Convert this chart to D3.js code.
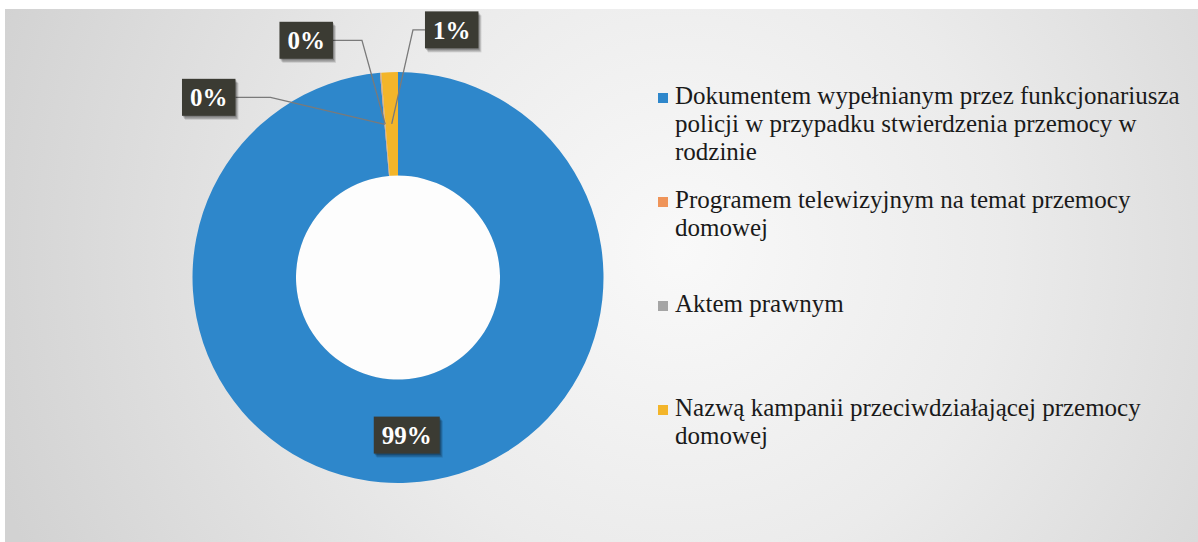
<!DOCTYPE html>
<html>
<head>
<meta charset="utf-8">
<script src="https://cdn.jsdelivr.net/npm/d3@7"></script>
</head>
<body style="margin:0">
<div id="chart"></div>
<script>
// data (percent of answers)
const categories = [
    "Dokumentem wypełnianym przez funkcjonariusza policji w przypadku stwierdzenia przemocy w rodzinie",
    "Programem telewizyjnym na temat przemocy domowej",
    "Aktem prawnym",
    "Nazwą kampanii przeciwdziałającej przemocy domowej"
];
const shares = [98.6, 0.05, 0.05, 1.3];
const colors = ["#2e87cb", "#ef9459", "#a5a5a5", "#f3b52a"];

// label box placement relative to the slice centroid: [dx, dy, leader elbow]
const labelOffsets = [[2, 4, 0], [-176, -27, 35], [-79, -84, 29], [60, -94, 12]];

const width = 1198;
const height = 542;
const cx = 398, cy = 277.5;
const outerR = 205.5, innerR = 102;

const holder = d3.select("#chart")
    .style("position", "relative")
    .style("width", width + "px")
    .style("height", height + "px")
    .style("background", "#fff");

// scanned paper backdrop
holder.append("div")
    .style("position", "absolute")
    .style("left", "5px").style("top", "9px")
    .style("width", (width - 5) + "px").style("height", (height - 9) + "px")
    .style("background", "radial-gradient(circle 720px at 675px 241px, #f9f9f9 0%, #ebebeb 45%, #d2d2d2 100%)");

const svg = holder.append("svg")
    .attr("width", width)
    .attr("height", height)
    .style("position", "absolute")
    .style("left", "0px").style("top", "0px");

const data = categories.map(function(c, i) {
    return { name: c, value: shares[i], color: colors[i], offset: labelOffsets[i] };
});

const pie = d3.pie().sort(null).value(function(d) { return d.value; });
const arc = d3.arc().innerRadius(innerR).outerRadius(outerR);
const arcs = pie(data);

// legend
const legendX = 658, legendY = 104, legendStep = 104, lineStep = 28, wrapWidth = 520;

data.forEach(function(d, i) {
    const y0 = legendY + i * legendStep;
    svg.append("rect")
        .attr("x", legendX).attr("y", y0 - 11)
        .attr("width", 10).attr("height", 10)
        .attr("fill", d.color);

    const t = svg.append("text")
        .attr("x", legendX + 17).attr("y", y0)
        .style("font-size", "25px")
        .attr("fill", "#1a1a1a");

    const words = d.name.split(" ");
    let line = [];
    let lineNo = 0;
    let tspan = t.append("tspan").attr("x", legendX + 17).attr("y", y0);
    words.forEach(function(w) {
        line.push(w);
        tspan.text(line.join(" "));
        if (tspan.node().getComputedTextLength() > wrapWidth && line.length > 1) {
            line.pop();
            tspan.text(line.join(" "));
            line = [w];
            lineNo++;
            tspan = t.append("tspan")
                .attr("x", legendX + 17)
                .attr("y", y0 + lineNo * lineStep)
                .text(w);
        }
    });
});

const g = svg.append("g").attr("transform", "translate(" + cx + "," + cy + ")");

// the hole shows plain paper
g.append("circle").attr("r", innerR).attr("fill", "#fdfdfd");

g.selectAll("path.slice")
    .data(arcs)
    .enter()
    .append("path")
    .attr("class", "slice")
    .attr("d", arc)
    .attr("fill", function(d) { return d.data.color; });

const pct = function(v) { return Math.round(v) + "%"; };

// data labels with leader lines
arcs.forEach(function(d) {
    const sel = g.append("g");
    const c = arc.centroid(d);
    const bx = c[0] + d.data.offset[0];
    const by = c[1] + d.data.offset[1];

    const tw = 12.5 * (pct(d.data.value).length - 1) + 25;
    const bw = tw + 16, bh = 37;

    if (d.data.offset[2] > 0) {
        const edge = bx < c[0] ? bx + bw / 2 : bx - bw / 2;
        const elbow = bx < c[0] ? edge + d.data.offset[2] : edge - d.data.offset[2];
        sel.append("path")
            .attr("d", d3.line()([[edge, by], [elbow, by], c]))
            .attr("fill", "none")
            .attr("stroke", "#7a7a7a")
            .attr("stroke-width", 1.3);
    }

    // soft shadow below the box
    [[3, 4, 0.12], [2, 3, 0.18], [1, 1.5, 0.2]].forEach(function(s) {
        sel.append("rect")
            .attr("x", bx - bw / 2 + s[0]).attr("y", by - bh / 2 + s[1])
            .attr("width", bw).attr("height", bh)
            .attr("fill", "#000").attr("opacity", s[2]);
    });
    sel.append("rect")
        .attr("x", bx - bw / 2).attr("y", by - bh / 2)
        .attr("width", bw).attr("height", bh)
        .attr("fill", "#3b3b33");

    sel.append("text")
        .attr("x", bx).attr("y", by)
        .attr("dy", "0.35em")
        .attr("text-anchor", "middle")
        .style("font-weight", "bold")
        .style("font-size", "25px")
        .attr("fill", "#fff")
        .text(pct(d.data.value));
});
</script>
</body>
</html>
